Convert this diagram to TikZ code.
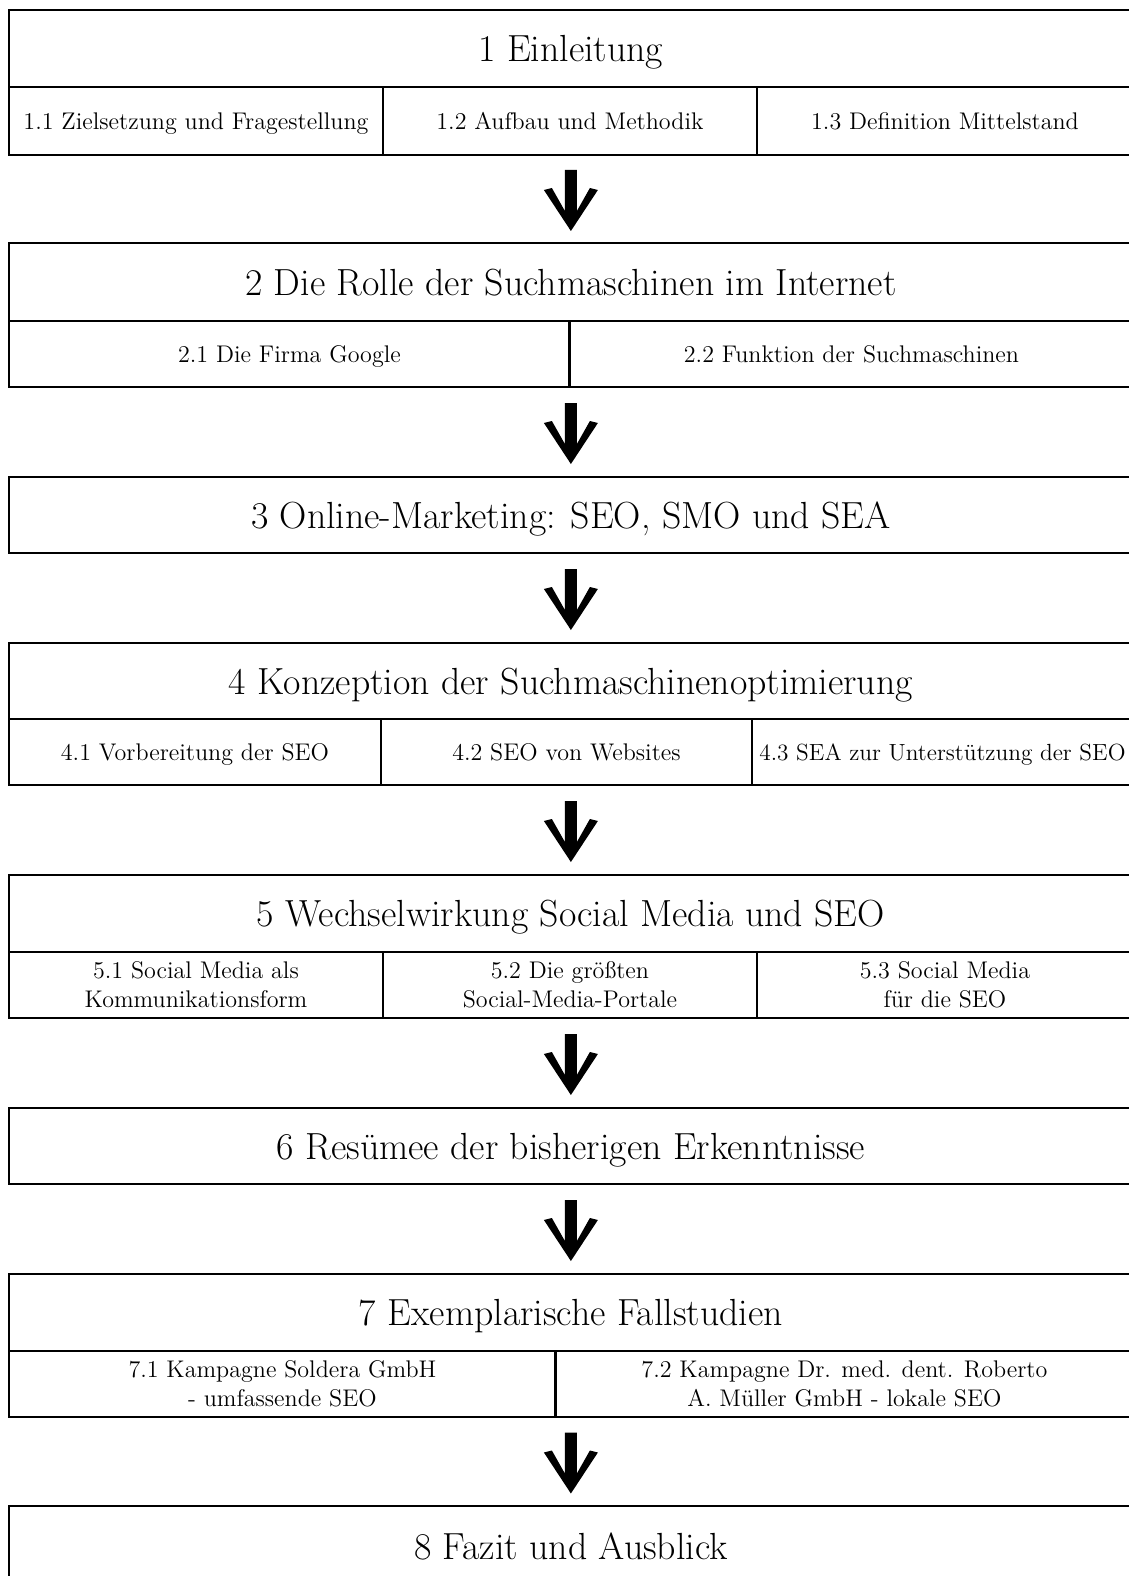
\documentclass[tikz,border=0pt]{standalone}
\usepackage{fontspec}
\usetikzlibrary{calc}
\tikzstyle{cell}=[draw, line width=1.6pt, outer sep=0pt, inner sep=0pt, anchor=north west, align=center]
\tikzstyle{chapbox}=[cell, font=\fontsize{21.5}{26}\selectfont, text height=19.5pt, text depth=4.2pt]
\tikzstyle{secbox}=[cell, font=\fontsize{13.7}{16.4}\selectfont, text height=12.9pt, text depth=2.7pt]
\tikzstyle{twolines}=[cell, font=\fontsize{13.7}{16.4}\selectfont]
\newcommand{\chapbox}{\node[chapbox]}
\newcommand{\secbox}{\node[secbox]}
\newcommand{\chevron}[2]{%
  \path ($(#1)!0.5!(#2)$) coordinate (m);
  \fill[shift={(m)}] (-6,-29) -- (6,-29) -- (6,12) -- (19,-11) -- (27,-9) -- (0,32)
    -- (-27,-9) -- (-19,-11) -- (-6,12) -- cycle;
}

\begin{document}
\begin{tikzpicture}[x=0.02cm, y=-0.02cm]
\useasboundingbox (0,0) rectangle (1129,1576);
\chapbox (h1) at (9,10)[minimum width=22.48cm, minimum height=1.54cm]{1 Einleitung};
\secbox (s11) at (9,87)[minimum width=7.48cm, minimum height=1.36cm]{1.1 Zielsetzung und Fragestellung};
\secbox (s12) at (383,87)[minimum width=7.48cm, minimum height=1.36cm]{1.2 Aufbau und Methodik};
\secbox (s13) at (757,87)[minimum width=7.52cm, minimum height=1.36cm]{1.3 Definition Mittelstand};

\chapbox (h2) at (9,243)[minimum width=22.48cm, minimum height=1.56cm]{2 Die Rolle der Suchmaschinen im Internet};
\secbox (s21) at (9,321)[minimum width=11.22cm, minimum height=1.32cm]{2.1 Die Firma Google};
\secbox (s22) at (570,321)[minimum width=11.26cm, minimum height=1.32cm]{2.2 Funktion der Suchmaschinen};

\chapbox (h3) at (9,477)[minimum width=22.48cm, minimum height=1.52cm]{3 Online-Marketing: SEO, SMO und SEA};

\chapbox (h4) at (9,643)[minimum width=22.48cm, minimum height=1.52cm]{4 Konzeption der Suchmaschinenoptimierung};
\secbox (s41) at (9,719)[minimum width=7.44cm, minimum height=1.32cm]{4.1 Vorbereitung der SEO};
\secbox (s42) at (381,719)[minimum width=7.42cm, minimum height=1.32cm]{4.2 SEO von Websites};
\secbox (s43) at (752,719)[minimum width=7.62cm, minimum height=1.32cm, font=\fontsize{13.3}{16}\selectfont]{4.3 SEA zur Unterstützung der SEO};

\chapbox (h5) at (9,875)[minimum width=22.48cm, minimum height=1.54cm]{5 Wechselwirkung Social Media und SEO};
\node[twolines] (s51) at (9,952)[minimum width=7.48cm, minimum height=1.32cm]{5.1 Social Media als\\Kommunikationsform};
\node[twolines] (s52) at (383,952)[minimum width=7.48cm, minimum height=1.32cm]{5.2 Die größten\\Social-Media-Portale};
\node[twolines] (s53) at (757,952)[minimum width=7.52cm, minimum height=1.32cm]{5.3 Social Media\\für die SEO};

\chapbox (h6) at (9,1108)[minimum width=22.48cm, minimum height=1.52cm]{6 Resümee der bisherigen Erkenntnisse};

\chapbox (h7) at (9,1274)[minimum width=22.48cm, minimum height=1.54cm]{7 Exemplarische Fallstudien};
\node[twolines] (s71) at (9,1351)[minimum width=10.94cm, minimum height=1.32cm]{7.1 Kampagne Soldera GmbH\\- umfassende SEO};
\node[twolines] (s72) at (556,1351)[minimum width=11.54cm, minimum height=1.32cm]{7.2 Kampagne Dr. med. dent. Roberto\\A. Müller GmbH - lokale SEO};

\chapbox (h8) at (9,1506)[minimum width=22.48cm, minimum height=1.6cm]{8 Fazit und Ausblick};

\chevron{h1.center |- s12.south}{h2.north}
\chevron{h2.center |- s21.south}{h3.north}
\chevron{h3.south}{h4.north}
\chevron{h4.center |- s42.south}{h5.north}
\chevron{h5.center |- s52.south}{h6.north}
\chevron{h6.south}{h7.north}
\chevron{h7.center |- s71.south}{h8.north}
\end{tikzpicture}
\end{document}
